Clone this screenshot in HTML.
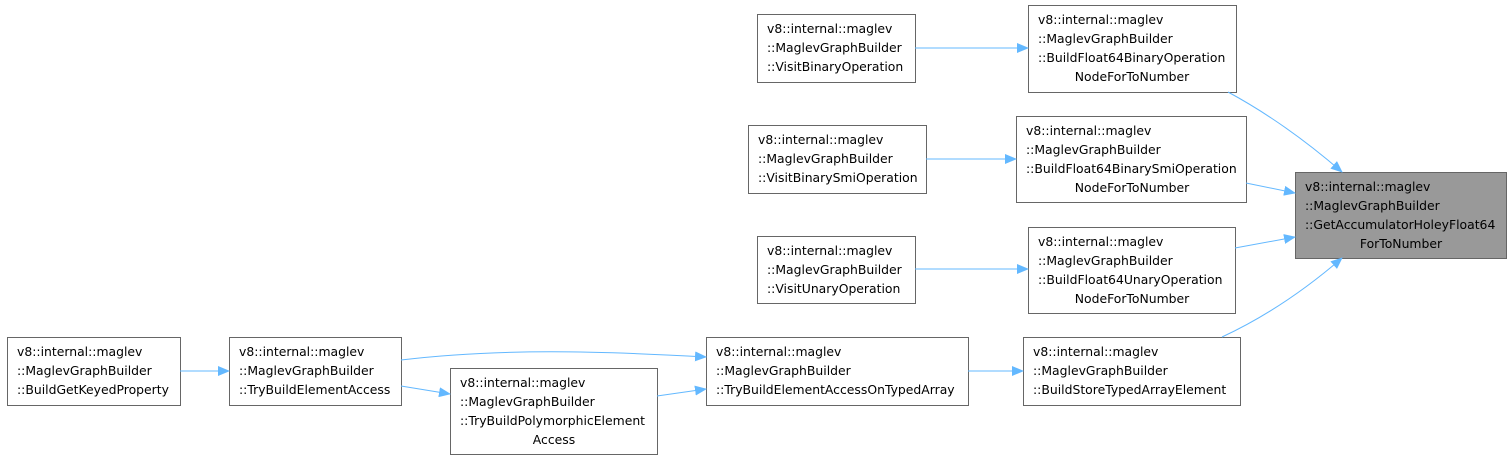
<!DOCTYPE html>
<html><head><meta charset="utf-8"><style>
body{margin:0;background:#fff;}
svg text{font-family:"DejaVu Sans","Liberation Sans",sans-serif;font-size:12.4px;fill:#000;}
</style></head><body>
<svg width="1512" height="460" xmlns="http://www.w3.org/2000/svg">
<defs><marker id="a" markerWidth="12" markerHeight="10" refX="11" refY="5" orient="auto" markerUnits="userSpaceOnUse"><path d="M0,0 L12,5 L0,10 z" fill="#63b8ff"/></marker></defs>
<g fill="#fff" stroke="#666" stroke-width="1">
<rect x="757.5" y="14.5" width="158" height="68"/>
<rect x="1028.5" y="5.5" width="208" height="87"/>
<rect x="748.5" y="125.5" width="178" height="68"/>
<rect x="1016.5" y="116.5" width="230" height="86"/>
<rect x="757.5" y="236.5" width="158" height="67"/>
<rect x="1028.5" y="227.5" width="207" height="86"/>
<rect x="1295.5" y="172.5" width="211" height="86" fill="#999"/>
<rect x="7.5" y="337.5" width="173" height="68"/>
<rect x="229.5" y="337.5" width="172" height="68"/>
<rect x="450.5" y="368.5" width="207" height="86"/>
<rect x="706.5" y="337.5" width="262" height="68"/>
<rect x="1023.5" y="337.5" width="217" height="68"/>
</g>
<g fill="none" stroke="#63b8ff" stroke-width="1" marker-end="url(#a)">
<path d="M915,48 L1028,48"/>
<path d="M926,159 L1016,159"/>
<path d="M915,269 L1028,269"/>
<path d="M1228,92 C1265,112 1305,140 1342,172"/>
<path d="M1246,183 L1295,193"/>
<path d="M1235,248 L1295,237"/>
<path d="M1222,337 C1265,317 1305,290 1342,258"/>
<path d="M180,371 L229,371"/>
<path d="M401,360 C500,348 600,351 706,357"/>
<path d="M401,386 L450,394"/>
<path d="M657,396 L706,389"/>
<path d="M968,371 L1023,371"/>
</g>
<text x="767" y="33">v8::internal::maglev</text><text x="767" y="52">::MaglevGraphBuilder</text><text x="767" y="71">::VisitBinaryOperation</text>
<text x="1038" y="24">v8::internal::maglev</text><text x="1038" y="43">::MaglevGraphBuilder</text><text x="1038" y="62">::BuildFloat64BinaryOperation</text><text x="1132" y="81" text-anchor="middle">NodeForToNumber</text>
<text x="758" y="144">v8::internal::maglev</text><text x="758" y="163">::MaglevGraphBuilder</text><text x="758" y="182">::VisitBinarySmiOperation</text>
<text x="1026" y="135">v8::internal::maglev</text><text x="1026" y="154">::MaglevGraphBuilder</text><text x="1026" y="173">::BuildFloat64BinarySmiOperation</text><text x="1132" y="192" text-anchor="middle">NodeForToNumber</text>
<text x="767" y="255">v8::internal::maglev</text><text x="767" y="274">::MaglevGraphBuilder</text><text x="767" y="293">::VisitUnaryOperation</text>
<text x="1038" y="246">v8::internal::maglev</text><text x="1038" y="265">::MaglevGraphBuilder</text><text x="1038" y="284">::BuildFloat64UnaryOperation</text><text x="1132" y="303" text-anchor="middle">NodeForToNumber</text>
<text x="1305" y="191">v8::internal::maglev</text><text x="1305" y="210">::MaglevGraphBuilder</text><text x="1305" y="229">::GetAccumulatorHoleyFloat64</text><text x="1401" y="248" text-anchor="middle">ForToNumber</text>
<text x="17" y="356">v8::internal::maglev</text><text x="17" y="375">::MaglevGraphBuilder</text><text x="17" y="394">::BuildGetKeyedProperty</text>
<text x="239" y="356">v8::internal::maglev</text><text x="239" y="375">::MaglevGraphBuilder</text><text x="239" y="394">::TryBuildElementAccess</text>
<text x="460" y="387">v8::internal::maglev</text><text x="460" y="406">::MaglevGraphBuilder</text><text x="460" y="425">::TryBuildPolymorphicElement</text><text x="554" y="444" text-anchor="middle">Access</text>
<text x="716" y="356">v8::internal::maglev</text><text x="716" y="375">::MaglevGraphBuilder</text><text x="716" y="394">::TryBuildElementAccessOnTypedArray</text>
<text x="1033" y="356">v8::internal::maglev</text><text x="1033" y="375">::MaglevGraphBuilder</text><text x="1033" y="394">::BuildStoreTypedArrayElement</text>
</svg>
</body></html>
